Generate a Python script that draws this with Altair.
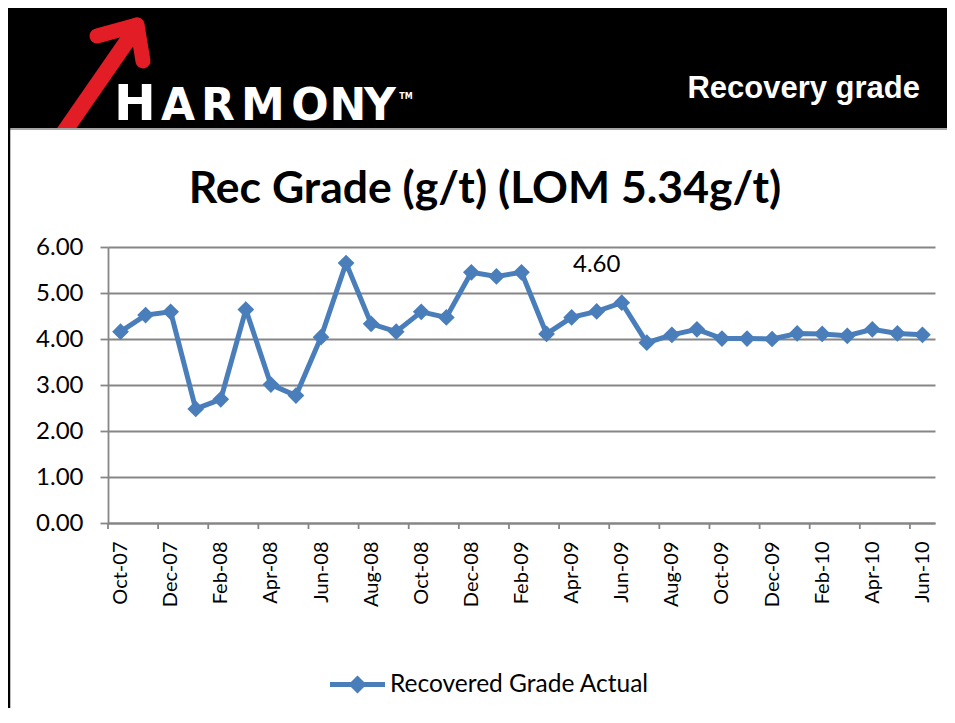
import altair as alt
import pandas as pd

# ---------------- data ----------------
months = ["Oct-07", "Nov-07", "Dec-07", "Jan-08", "Feb-08", "Mar-08", "Apr-08",
          "May-08", "Jun-08", "Jul-08", "Aug-08", "Sep-08", "Oct-08", "Nov-08",
          "Dec-08", "Jan-09", "Feb-09", "Mar-09", "Apr-09", "May-09", "Jun-09",
          "Jul-09", "Aug-09", "Sep-09", "Oct-09", "Nov-09", "Dec-09", "Jan-10",
          "Feb-10", "Mar-10", "Apr-10", "May-10", "Jun-10"]
rec_grade = [4.16, 4.52, 4.59, 2.48, 2.69, 4.64, 3.01, 2.77, 4.04, 5.65, 4.33,
             4.16, 4.59, 4.47, 5.45, 5.36, 5.45, 4.11, 4.47, 4.60, 4.79, 3.92,
             4.09, 4.21, 4.01, 4.01, 4.00, 4.12, 4.11, 4.07, 4.21, 4.12, 4.09]
series_name = "Recovered Grade Actual"
labelled_point = "May-09"
tick_labels = months[::2]
y_ticks = [0, 1, 2, 3, 4, 5, 6]

df = pd.DataFrame({"month": months, "value": rec_grade, "series": series_name})
ticks_df = pd.DataFrame({"month": tick_labels})
one = pd.DataFrame({"k": [0]})

# ---------------- layout ----------------
W, H = 827, 276
PAD = {"left": 100, "top": 239, "right": 12, "bottom": 185}
BLUE = "#4a7ebb"
GRID = "#868686"
RED = "#e31d25"
STEP = W / len(months)

x_enc = alt.X("month:O", sort=months,
              scale=alt.Scale(type="point", padding=0.5, domain=months),
              axis=alt.Axis(values=tick_labels, title=None, ticks=False, tickSize=0,
                            labelAngle=-90, labelFont="Lato", labelFontSize=20,
                            labelColor="black", labelPadding=18,
                            domainColor=GRID, domainWidth=1.8, grid=False))
y_enc = alt.Y("value:Q", scale=alt.Scale(domain=[0, 6], nice=False),
              axis=alt.Axis(values=y_ticks, format=".2f", title=None,
                            labelFont="Lato", labelFontSize=24, labelColor="black",
                            labelPadding=17, tickSize=8, tickColor=GRID, tickWidth=1.8,
                            domainColor=GRID, domainWidth=1.8,
                            grid=True, gridColor=GRID, gridWidth=1.8))

# ---------------- header decorations ----------------
band = alt.Chart(one).mark_rect(color="black").encode(
    x=alt.value(-100), x2=alt.value(W + PAD["right"]),
    y=alt.value(-239), y2=alt.value(-119))

def seg(x1, y1, x2, y2, cap, width=15):
    return alt.Chart(one).mark_rule(color=RED, strokeWidth=width, strokeCap=cap).encode(
        x=alt.value(x1), y=alt.value(y1), x2=alt.value(x2), y2=alt.value(y2))

arrow = [seg(-46, -112, 24, -213, "butt", 16),
         seg(-11, -211, 29, -222, "round"),
         seg(29, -222, 35, -186, "round")]

white_cover = alt.Chart(one).mark_rect(color="white").encode(
    x=alt.value(-100), x2=alt.value(W + PAD["right"]),
    y=alt.value(-119), y2=alt.value(-100))
grey_line = alt.Chart(one).mark_rule(color="#a6a6a6", strokeWidth=2).encode(
    x=alt.value(-100), x2=alt.value(W + PAD["right"]),
    y=alt.value(-118))
left_border = alt.Chart(one).mark_rule(color="black", strokeWidth=2.5).encode(
    x=alt.value(-99), y=alt.value(-119), y2=alt.value(H + PAD["bottom"]))

logo_h = alt.Chart(one).mark_text(text="H", font="DejaVu Sans", fontWeight="bold",
                                  fontSize=50, color="white", align="center",
                                  baseline="alphabetic").encode(
    x=alt.value(27), y=alt.value(-127))
logo_letters = []
for ch, cx in [("A", 70), ("R", 110), ("M", 155), ("O", 202), ("N", 240), ("Y", 272)]:
    logo_letters.append(
        alt.Chart(one).mark_text(text=ch, font="DejaVu Sans", fontWeight="bold",
                                 fontSize=44, color="white", align="center",
                                 baseline="alphabetic").encode(
            x=alt.value(cx), y=alt.value(-127)))
logo_tm = alt.Chart(one).mark_text(text="TM", font="DejaVu Sans", fontWeight="bold",
                                   fontSize=8, color="white", align="center",
                                   baseline="alphabetic").encode(
    x=alt.value(298), y=alt.value(-148))

header_title = alt.Chart(one).mark_text(text="Recovery grade", font="Liberation Sans",
                                        fontWeight="bold", fontSize=31, color="white",
                                        align="right", baseline="alphabetic").encode(
    x=alt.value(812), y=alt.value(-149))

chart_title = alt.Chart(one).mark_text(text="Rec Grade (g/t) (LOM 5.34g/t)", font="Lato",
                                       fontWeight="bold", fontSize=44.5, color="black",
                                       align="center", baseline="alphabetic").encode(
    x=alt.value(377), y=alt.value(-44))

# ---------------- chart ----------------
tick_rules = alt.Chart(ticks_df).mark_rule(color=GRID, strokeWidth=1.8,
                                           xOffset=-STEP / 2).encode(
    x=x_enc, y=alt.value(H), y2=alt.value(H + 6))

line = alt.Chart(df).mark_line(color=BLUE, strokeWidth=5).encode(x=x_enc, y=y_enc)

legend_path = "M-1,-0.09H1V0.09H-1Z M0,-0.33L0.33,0L0,0.33L-0.33,0Z"
points = alt.Chart(df).mark_point(shape="diamond", filled=True, size=280,
                                  opacity=1).encode(
    x=x_enc, y=y_enc,
    color=alt.Color("series:N",
                    scale=alt.Scale(domain=[series_name], range=[BLUE]),
                    legend=alt.Legend(title=None, orient="none", legendX=222,
                                      legendY=410, symbolType=legend_path,
                                      symbolSize=3025, symbolStrokeWidth=0,
                                      symbolOpacity=1, padding=0,
                                      labelFont="Lato", labelFontSize=24.5,
                                      labelLimit=500,
                                      labelColor="black", labelOffset=5)))

data_label = alt.Chart(df).mark_text(font="Lato", fontSize=24, color="black",
                                     dy=-46).encode(
    x=x_enc, y=y_enc, text=alt.Text("value:Q", format=".2f")
).transform_filter(alt.datum.month == labelled_point)

chart = alt.layer(
    band, *arrow, white_cover, grey_line, left_border,
    logo_h, *logo_letters, logo_tm, header_title, chart_title,
    tick_rules, line, points, data_label
).properties(
    width=W, height=H, padding=PAD,
    autosize=alt.AutoSizeParams(type="none"),
    background="white"
).configure_view(stroke=None)

chart.save("out.html", embed_options={"renderer": "svg", "actions": False})
